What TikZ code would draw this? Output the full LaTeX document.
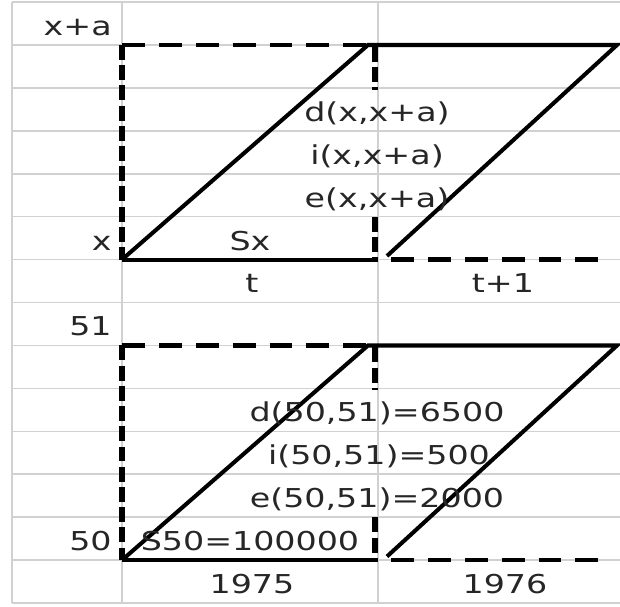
\documentclass[tikz,border=0pt]{standalone}
\usepackage{fontspec}
\newfontfamily\cellfont[FakeStretch=1.28]{DejaVu Sans}
\usepackage{tikz}
\tikzset{
  gridline/.style ={draw=black!18,line width=0.9pt},
  solidedge/.style={draw=black,line width=2.3pt},
  dashedge/.style ={draw=black,line width=2.6pt,dash pattern=on 13pt off 8pt},
  vdashedge/.style={draw=black,line width=3pt,dash pattern=on 8.5pt off 3pt},
  cell/.style     ={inner sep=0pt,anchor=base,text=black!85,
                    font=\cellfont\fontsize{14.8}{17}\selectfont},
  rowlab/.style   ={cell,anchor=base east},
}
\begin{document}
\begin{tikzpicture}[x=0.02cm,y=-0.02cm]
  \useasboundingbox (0,0) rectangle (620,607);
  % sheet grid
  \foreach \k in {0,...,14}
    \draw[gridline] (12,2+42.93*\k) -- (620,2+42.93*\k);
  \foreach \c in {12,122,378}
    \draw[gridline] (\c,2) -- (\c,603);
  % the two parallelograms
  \foreach \h/\dy in {a/0,b/300.5}{
    \begin{scope}[shift={(0,\dy)}]
      \coordinate (bl\h) at (122,259.6);
      \coordinate (ul\h) at (122,45);
      \coordinate (tl\h) at (368,45);
      \coordinate (tr\h) at (617,45);
      \coordinate (br\h) at (387,256);
      \coordinate (bm\h) at (378,259.6);
      \coordinate (bs\h) at (391,259.6);
      \coordinate (be\h) at (612,259.6);
      \coordinate (m1\h) at (375,47);
      \coordinate (m2\h) at (375,90);
      \coordinate (m3\h) at (375,217);
      \coordinate (m4\h) at (375,259);
    \end{scope}
    \draw[vdashedge] (ul\h) -- (bl\h);
    \draw[dashedge] (ul\h) -- (tl\h);
    \draw[dashedge] (bs\h) -- (be\h);
    \draw[vdashedge] (m1\h) -- (m2\h);
    \draw[vdashedge] (m3\h) -- (m4\h);
    \draw[solidedge,line join=miter] (bl\h) -- (tl\h) -- (tr\h) -- (br\h);
    \draw[solidedge] (bl\h) -- (bm\h);
  }
  % labels, general case
  \node[rowlab] (xa)  at (112,35.5)  {x+a};
  \node[rowlab] (xlo) at (112,250.1) {x};
  \node[cell]   (sx)  at (250,250.1) {Sx};
  \node[cell]   (tl)  at (252,293)   {t};
  \node[cell]   (t1)  at (503,293)   {t+1};
  \node[cell]   (dxa) at (377,121.3) {d(x,x+a)};
  \node[cell]   (ixa) at (377,164.2) {i(x,x+a)};
  \node[cell]   (exa) at (377,207.1) {e(x,x+a)};
  % labels, numbers
  \node[rowlab] (n51) at (112,336)   {51};
  \node[rowlab] (n50) at (112,550.6) {50};
  \node[cell]   (s50) at (250,550.6) {S50=100000};
  \node[cell]   (y75) at (252,593.5) {1975};
  \node[cell]   (y76) at (505,593.5) {1976};
  \node[cell]   (d50) at (377,421.8) {d(50,51)=6500};
  \node[cell]   (i50) at (379,464.7) {i(50,51)=500};
  \node[cell]   (e50) at (377,507.6) {e(50,51)=2000};
\end{tikzpicture}
\end{document}
